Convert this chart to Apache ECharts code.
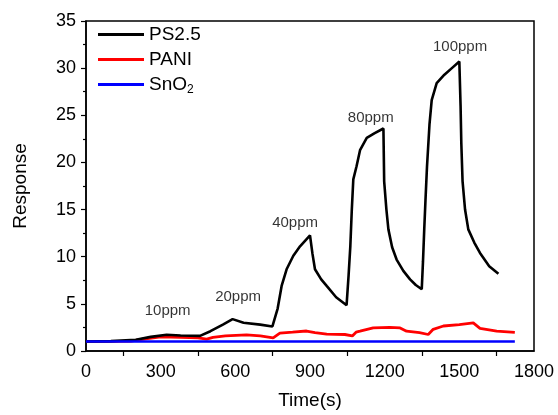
<!DOCTYPE html>
<html>
<head>
<meta charset="utf-8">
<script src="https://cdn.jsdelivr.net/npm/echarts@6/dist/echarts.min.js"></script>
<style>
  html, body { margin: 0; padding: 0; background: #fff; }
  #chart { width: 558px; height: 415px; }
</style>
</head>
<body>
<div id="chart"></div>
<script>
// PS2.5 response vs time
const psTime = [0, 100, 200, 260, 324, 380, 458, 500, 550, 589, 633, 700, 749, 770, 786, 806, 833, 860, 900, 910, 920, 945, 967, 1005, 1047, 1055, 1062, 1068, 1074, 1087, 1101, 1128, 1160, 1195, 1198, 1207, 1215, 1230, 1248, 1275, 1302, 1325, 1349, 1354, 1359, 1364, 1370, 1380, 1389, 1409, 1440, 1470, 1500, 1505, 1508, 1513, 1523, 1536, 1560, 1583, 1620, 1657];
const psResp = [1.0, 1.05, 1.2, 1.5, 1.72, 1.65, 1.6, 2.1, 2.8, 3.38, 3.0, 2.8, 2.6, 4.5, 6.9, 8.67, 10.1, 11.1, 12.26, 10.3, 8.67, 7.6, 6.9, 5.7, 4.86, 8.0, 11.1, 15.0, 18.2, 19.6, 21.3, 22.6, 23.1, 23.6, 18.0, 15.0, 12.9, 11.0, 9.7, 8.5, 7.6, 7.0, 6.55, 9.5, 12.9, 16.0, 19.5, 24.0, 26.6, 28.4, 29.3, 30.0, 30.7, 26.0, 22.0, 18.0, 15.0, 12.9, 11.5, 10.4, 9.0, 8.2];

// PANI response vs time
const paniTime = [0, 180, 240, 300, 380, 450, 485, 510, 560, 645, 700, 752, 779, 830, 886, 920, 967, 1040, 1070, 1085, 1101, 1154, 1220, 1262, 1288, 1340, 1375, 1395, 1436, 1500, 1556, 1583, 1650, 1723];
const paniResp = [1.0, 1.05, 1.3, 1.5, 1.45, 1.4, 1.25, 1.45, 1.6, 1.72, 1.6, 1.4, 1.9, 2.0, 2.12, 1.95, 1.78, 1.75, 1.6, 2.0, 2.1, 2.45, 2.5, 2.45, 2.1, 1.95, 1.75, 2.3, 2.65, 2.8, 2.98, 2.4, 2.1, 1.98];

// SnO2 response vs time
const snoTime = [0, 1723];
const snoResp = [1.0, 1.0];

// concentration labels
const labelTime = [328, 611, 840, 1144, 1503];
const labelResp = [4.3, 5.7, 13.6, 24.7, 32.3];
const labelText = ['10ppm', '20ppm', '40ppm', '80ppm', '100ppm'];

const xTicks = { min: 0, max: 1800, interval: 300 };
const yTicks = { min: 0, max: 35, interval: 5 };

const zip = (a, b) => a.map((v, i) => [v, b[i]]);
const font = 'Liberation Sans, Arial, sans-serif';

const chart = echarts.init(document.getElementById('chart'));
chart.setOption({
  animation: false,
  grid: { left: 86, right: 24, top: 21, bottom: 63, show: true, borderColor: '#000', borderWidth: 1.5 },
  legend: {
    data: ['PS2.5', 'PANI', 'SnO2'],
    orient: 'vertical',
    left: 93, top: 20,
    icon: 'rect',
    itemWidth: 46, itemHeight: 3, itemGap: 6,
    formatter: n => n === 'SnO2' ? 'SnO{sub|2}' : n,
    textStyle: {
      fontFamily: font, fontSize: 19, color: '#000',
      rich: { sub: { fontFamily: font, fontSize: 12, color: '#000', padding: [10, 0, 0, 0] } }
    }
  },
  xAxis: {
    type: 'value', ...xTicks,
    name: 'Time(s)', nameLocation: 'middle', nameGap: 40,
    nameTextStyle: { fontFamily: font, fontSize: 19, color: '#000' },
    axisLine: { lineStyle: { color: '#000', width: 1.5 } },
    axisTick: { show: false },
    minorTick: { show: true, splitNumber: 2, length: 5, lineStyle: { color: '#000', width: 1.2 } },
    axisLabel: { fontFamily: font, fontSize: 18, color: '#000', margin: 12, formatter: v => String(v) },
    splitLine: { show: false }
  },
  yAxis: {
    type: 'value', ...yTicks,
    name: 'Response', nameLocation: 'middle', nameGap: 56,
    nameTextStyle: { fontFamily: font, fontSize: 19, color: '#000' },
    axisLine: { show: true, lineStyle: { color: '#000', width: 1.5 } },
    axisTick: { show: true, length: 5, lineStyle: { color: '#000', width: 1.2 } },
    minorTick: { show: true, splitNumber: 2, length: 3, lineStyle: { color: '#000', width: 1.2 } },
    axisLabel: { fontFamily: font, fontSize: 18, color: '#000', margin: 10 },
    splitLine: { show: false }
  },
  series: [
    {
      name: 'PS2.5', type: 'line', data: zip(psTime, psResp), symbol: 'none', z: 4,
      lineStyle: { color: '#000', width: 2.6 }, itemStyle: { color: '#000' }
    },
    {
      name: 'PANI', type: 'line', data: zip(paniTime, paniResp), symbol: 'none', z: 3,
      lineStyle: { color: '#ff0000', width: 2.8 }, itemStyle: { color: '#ff0000' }
    },
    {
      name: 'SnO2', type: 'line', data: zip(snoTime, snoResp), symbol: 'none', z: 5,
      lineStyle: { color: '#0000ff', width: 2.6 }, itemStyle: { color: '#0000ff' }
    },
    {
      type: 'scatter', symbolSize: 0, silent: true, z: 6,
      data: labelTime.map((t, i) => [t, labelResp[i], labelText[i]]),
      label: {
        show: true, position: 'inside', formatter: p => p.value[2],
        fontFamily: font, fontSize: 15, color: '#000'
      }
    }
  ]
});
</script>
</body>
</html>
